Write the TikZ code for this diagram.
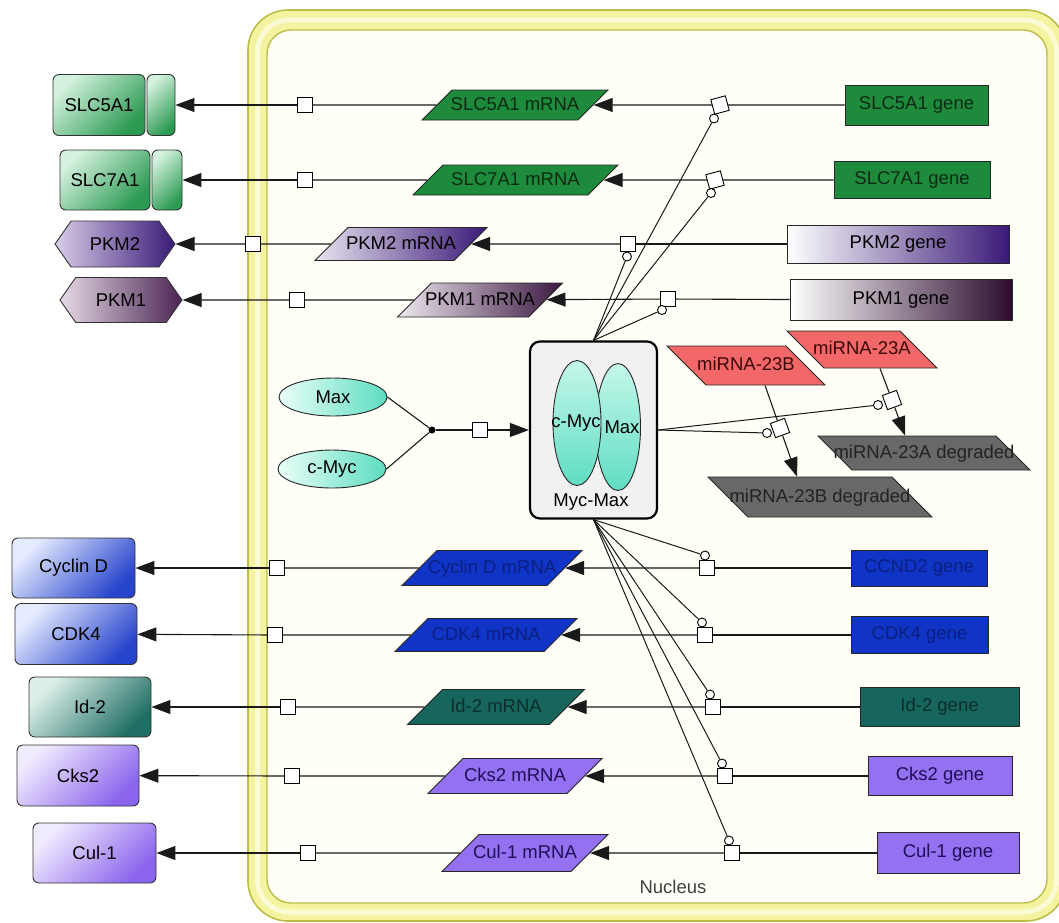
\documentclass[tikz,border=0pt]{standalone}
\usepackage{fontspec}
\setmainfont{Liberation Sans}
\usetikzlibrary{shapes.geometric,shapes.symbols,arrows.meta,calc}

% palette
\definecolor{geneGreen}{HTML}{1E8A3B}
\definecolor{txtGreen}{HTML}{0E2A14}
\definecolor{protGreenL}{HTML}{D3F1DD}
\definecolor{protGreenD}{HTML}{2B9A52}
\definecolor{pkmTwo}{HTML}{3A1A78}
\definecolor{pkmTwoL}{HTML}{D8CDE8}
\definecolor{pkmTwoM}{HTML}{E8E3F0}
\definecolor{pkmOne}{HTML}{2C0B2E}
\definecolor{pkmOneL}{HTML}{E6DAE6}
\definecolor{pkmOneM}{HTML}{EEE8EE}
\definecolor{pkmOneP}{HTML}{4A2452}
\definecolor{pkmOneR}{HTML}{3C1842}
\definecolor{cycBlue}{HTML}{1034C6}
\definecolor{txtBlue}{HTML}{0B1F80}
\definecolor{cycBlueL}{HTML}{E6ECFF}
\definecolor{cycBlueD}{HTML}{2744CC}
\definecolor{idTeal}{HTML}{17665D}
\definecolor{txtTeal}{HTML}{0A2E29}
\definecolor{idTealL}{HTML}{DCEFEA}
\definecolor{idTealD}{HTML}{1F6E63}
\definecolor{cksViolet}{HTML}{9371F0}
\definecolor{txtViolet}{HTML}{1E1058}
\definecolor{cksVioletL}{HTML}{F1EBFF}
\definecolor{cksVioletD}{HTML}{8A64EC}
\definecolor{mirRed}{HTML}{F26868}
\definecolor{txtRed}{HTML}{3A0808}
\definecolor{degGrey}{HTML}{686868}
\definecolor{txtGrey}{HTML}{222222}
\definecolor{aquaL}{HTML}{EAFFF8}
\definecolor{aquaD}{HTML}{5CDDC0}
\definecolor{aquaTop}{HTML}{C4F7EA}
\definecolor{aquaBot}{HTML}{5FDDC2}
\definecolor{nucBand}{HTML}{F3F3A0}
\definecolor{nucEdge}{HTML}{BDBD48}
\definecolor{nucStripe}{HTML}{FAFAD4}
\definecolor{nucInside}{HTML}{FFFFF8}
\definecolor{lineGrey}{HTML}{1A1A1A}
\definecolor{cplxFill}{HTML}{F1F1F1}

\begin{document}
\begin{tikzpicture}[x=1pt,y=-1pt,
  txt/.style={font=\fontsize{18.5pt}{21pt}\selectfont},
  gene/.style={txt, rectangle, draw=black!85, line width=0.9pt, inner sep=0pt},
  mrna/.style={txt, trapezium, trapezium left angle=45, trapezium right angle=135,
    trapezium stretches body, draw=black!85, line width=0.9pt, inner xsep=-10pt,
    text height=13.5pt, text depth=3.5pt},
  mirna/.style={mrna, trapezium left angle=135, trapezium right angle=45, inner xsep=-20pt},
  prot/.style={txt, rectangle, draw=black!80, line width=0.9pt, rounded corners=6pt, inner sep=0pt},
  protfill/.style 2 args={top color=#1, bottom color=#2, shading angle=45},
  hexa/.style={txt, signal, signal to=west and east, signal pointer angle=110,
    draw=black!80, line width=0.9pt, inner sep=0pt},
  proc/.style={rectangle, draw=black, fill=white, line width=0.9pt, minimum size=15pt, inner sep=0pt},
  modc/.style={circle, draw=black, fill=white, line width=0.9pt, minimum size=9pt, inner sep=0pt},
  ell/.style={txt, ellipse, draw=black!85, line width=0.9pt, left color=aquaL, right color=aquaD,
    minimum width=108pt, minimum height=38pt, inner sep=0pt},
  inell/.style={ellipse, draw=black!85, line width=0.9pt, top color=aquaTop, bottom color=aquaBot, inner sep=0pt},
  cplx/.style={rectangle, draw=black, line width=2.2pt, rounded corners=10pt, fill=cplxFill,
    minimum width=127pt, minimum height=177pt},
  conn/.style={draw=lineGrey, line width=1.1pt},
  prod/.style={conn, -{Triangle[length=19pt,width=14pt]}},
  mod/.style={draw=lineGrey, line width=1pt}
]
\useasboundingbox (0,0) rectangle (1059,922);
\fill[white] (0,0) rectangle (1059,922);

% nuclear envelope
\draw[nucEdge, line width=1.6pt, fill=nucBand, rounded corners=40pt] (248,10) rectangle (1066,921);
\draw[nucStripe, line width=5pt, rounded corners=32pt] (257.5,20) rectangle (1056.5,912);
\draw[nucEdge, line width=1.4pt, fill=nucInside, rounded corners=24pt] (267,30) rectangle (1047,903);
\node[txt, text=black!75] (nuclabel) at (673,887) {Nucleus};

% ---------- Myc-Max complex formation ----------
\node[ell] (eMax) at (333,397) {Max};
\node[ell] (eMyc) at (332,469) {c-Myc};
\node[circle, fill=black, inner sep=0pt, minimum size=7pt] (jn) at (432,430) {};
\node[proc] (sqMM) at (480,430) {};
\node[cplx] (cmx) at (593.5,430) {};
\node[inell, minimum width=45pt, minimum height=127pt] (inMax) at (618,427) {};
\node[inell, minimum width=48pt, minimum height=125pt] (inMyc) at (577,423) {};
\node[txt] (tMyc) at (576,423) {c-Myc};
\node[txt] (tMax) at (622,427) {Max};
\node[txt] (tCmx) at (591,502) {Myc-Max};

\draw[conn] (eMax.east) -- (jn);
\draw[conn] (eMyc.east) -- (jn);
\draw[conn] (jn) -- (sqMM);
\draw[prod] (sqMM) -- (cmx);

% ---------- SLC5A1 ----------
\node[gene, fill=geneGreen, text=txtGreen, minimum width=143pt, minimum height=40pt] (gSLC5A1) at (916.5,105) {SLC5A1 gene};
\node[proc, rotate=15] (tSLC5A1) at (720,105) {};
\node[modc] (oSLC5A1) at (714,118.5) {};
\node[mrna, fill=geneGreen, text=txtGreen, minimum width=186pt, inner ysep=6.5pt] (mSLC5A1) at (515,105) {SLC5A1 mRNA};
\node[proc] (lSLC5A1) at (305,105) {};
\node[prot, protfill={protGreenL}{protGreenD}, minimum width=92pt, minimum height=61pt] (pSLC5A1) at (99,105) {SLC5A1};
\node[prot, protfill={protGreenL}{protGreenD}, minimum width=28pt, minimum height=61pt] (pSLC5A1b) at (161,105) {};

% ---------- SLC7A1 ----------
\node[gene, fill=geneGreen, text=txtGreen, minimum width=156pt, minimum height=37pt] (gSLC7A1) at (912,180) {SLC7A1 gene};
\node[proc, rotate=15] (tSLC7A1) at (715,180) {};
\node[modc] (oSLC7A1) at (711,193) {};
\node[mrna, fill=geneGreen, text=txtGreen, minimum width=205pt, inner ysep=6.5pt] (mSLC7A1) at (515.5,180) {SLC7A1 mRNA};
\node[proc] (lSLC7A1) at (305,180) {};
\node[prot, protfill={protGreenL}{protGreenD}, minimum width=90pt, minimum height=60pt] (pSLC7A1) at (105,180) {SLC7A1};
\node[prot, protfill={protGreenL}{protGreenD}, minimum width=30pt, minimum height=60pt] (pSLC7A1b) at (167,180) {};

% ---------- PKM2 ----------
\node[gene, left color=white, right color=pkmTwo, minimum width=222pt, minimum height=38pt] (gPKM2) at (898,244) {PKM2 gene};
\node[proc] (tPKM2) at (628,244) {};
\node[modc] (oPKM2) at (627,256.5) {};
\node[mrna, left color=pkmTwoM, right color=pkmTwo, minimum width=172pt, inner ysep=8pt] (mPKM2) at (401,244) {PKM2 mRNA};
\node[proc] (lPKM2) at (253,244) {};
\node[hexa, left color=pkmTwoL, right color=pkmTwo, minimum width=120pt, minimum height=46pt] (pPKM2) at (115,244) {PKM2};

% ---------- PKM1 ----------
\node[gene, left color=white, right color=pkmOne, minimum width=222pt, minimum height=41pt] (gPKM1) at (901,300) {PKM1 gene};
\node[proc] (tPKM1) at (668,299) {};
\node[modc] (oPKM1) at (662,310) {};
\node[mrna, left color=pkmOneM, right color=pkmOneR, minimum width=165pt, inner ysep=8.5pt] (mPKM1) at (480,300) {PKM1 mRNA};
\node[proc] (lPKM1) at (297,300) {};
\node[hexa, left color=pkmOneL, right color=pkmOneP, minimum width=122pt, minimum height=45pt] (pPKM1) at (121,300) {PKM1};

% ---------- Cyclin D ----------
\node[gene, fill=cycBlue, text=txtBlue, minimum width=136pt, minimum height=36pt] (gCCND2) at (919,568) {CCND2 gene};
\node[proc] (tCCND2) at (707,568) {};
\node[modc] (oCCND2) at (705,555.5) {};
\node[mrna, fill=cycBlue, text=txtBlue, minimum width=180pt, inner ysep=9pt] (mCCND2) at (492,568) {Cyclin D mRNA};
\node[proc] (lCCND2) at (277,568) {};
\node[prot, protfill={cycBlueL}{cycBlueD}, minimum width=123pt, minimum height=60pt] (pCCND2) at (73.5,568) {Cyclin D};

% ---------- CDK4 ----------
\node[gene, fill=cycBlue, text=txtBlue, minimum width=137pt, minimum height=37pt] (gCDK4) at (919.5,635) {CDK4 gene};
\node[proc] (tCDK4) at (705,635) {};
\node[modc] (oCDK4) at (702,622.5) {};
\node[mrna, fill=cycBlue, text=txtBlue, minimum width=182pt, inner ysep=8pt] (mCDK4) at (486,635) {CDK4 mRNA};
\node[proc] (lCDK4) at (275,635) {};
\node[prot, protfill={cycBlueL}{cycBlueD}, minimum width=122pt, minimum height=61pt] (pCDK4) at (76,634) {CDK4};

% ---------- Id-2 ----------
\node[gene, fill=idTeal, text=txtTeal, minimum width=159pt, minimum height=39pt] (gID2) at (939.5,707) {Id-2 gene};
\node[proc] (tID2) at (713,707) {};
\node[modc] (oID2) at (710,694.5) {};
\node[mrna, fill=idTeal, text=txtTeal, minimum width=177pt, inner ysep=9pt] (mID2) at (496,707) {Id-2 mRNA};
\node[proc] (lID2) at (288,707) {};
\node[prot, protfill={idTealL}{idTealD}, minimum width=122pt, minimum height=60pt] (pID2) at (90,707) {Id-2};

% ---------- Cks2 ----------
\node[gene, fill=cksViolet, text=txtViolet, minimum width=144pt, minimum height=39pt] (gCKS2) at (940,776) {Cks2 gene};
\node[proc] (tCKS2) at (725,776) {};
\node[modc] (oCKS2) at (722,763.5) {};
\node[mrna, fill=cksViolet, text=txtViolet, minimum width=174pt, inner ysep=9pt] (mCKS2) at (515,776) {Cks2 mRNA};
\node[proc] (lCKS2) at (292,776) {};
\node[prot, protfill={cksVioletL}{cksVioletD}, minimum width=122pt, minimum height=61pt] (pCKS2) at (78,775.5) {Cks2};

% ---------- Cul-1 ----------
\node[gene, fill=cksViolet, text=txtViolet, minimum width=142pt, minimum height=41pt] (gCUL1) at (948,853) {Cul-1 gene};
\node[proc] (tCUL1) at (732,853) {};
\node[modc] (oCUL1) at (729,840.5) {};
\node[mrna, fill=cksViolet, text=txtViolet, minimum width=166pt, inner ysep=10pt] (mCUL1) at (525,853) {Cul-1 mRNA};
\node[proc] (lCUL1) at (308,853) {};
\node[prot, protfill={cksVioletL}{cksVioletD}, minimum width=123pt, minimum height=60pt] (pCUL1) at (94.5,853) {Cul-1};

% ---------- microRNAs ----------
\node[mirna, fill=mirRed, text=txtRed, minimum width=158pt, inner ysep=11pt] (m23B) at (746,365.5) {miRNA-23B};
\node[mirna, fill=mirRed, text=txtRed, minimum width=150pt, inner ysep=10pt] (m23A) at (862,349.5) {miRNA-23A};
\node[mirna, fill=degGrey, text=txtGrey, minimum width=212pt, inner ysep=8.5pt] (d23A) at (924,453) {miRNA-23A degraded};
\node[mirna, fill=degGrey, text=txtGrey, minimum width=224pt, inner ysep=11.5pt] (d23B) at (820,497) {miRNA-23B degraded};
\node[proc, rotate=20] (s23B) at (780,428) {};
\node[modc] (o23B) at (767,433) {};
\node[proc, rotate=20] (s23A) at (892,400) {};
\node[modc] (o23A) at (878,405) {};
\coordinate (m23Bout) at ($(m23B.south)+(19,0)$);
\coordinate (d23Bin) at ($(d23B.north)+(-23,0)$);
\coordinate (m23Aout) at ($(m23A.south)+(18,0)$);
\coordinate (d23Ain) at ($(d23A.north)+(-19,0)$);

% ---------- transcription and translation ----------
\foreach \g in {SLC5A1,SLC7A1,PKM2,PKM1,CCND2,CDK4,ID2,CKS2,CUL1}{
  \draw[conn] (g\g) -- (t\g);
  \draw[prod] (t\g) -- (m\g);
  \draw[conn] (m\g) -- (l\g);
}
\draw[prod] (lSLC5A1) -- (pSLC5A1b);
\draw[prod] (lSLC7A1) -- (pSLC7A1b);
\foreach \g in {PKM2,PKM1,CCND2,CDK4,ID2,CKS2,CUL1}{
  \draw[prod] (l\g) -- (p\g);
}

% ---------- regulation by Myc-Max ----------
\foreach \g in {SLC5A1,SLC7A1,PKM2,PKM1}{
  \draw[mod] (cmx.north) -- (o\g);
}
\foreach \g in {CCND2,CDK4,ID2,CKS2,CUL1}{
  \draw[mod] (cmx.south) -- (o\g);
}
\draw[mod] (cmx.east) -- (o23B);
\draw[mod] (cmx.east) -- (o23A);

% ---------- microRNA degradation ----------
\draw[conn] (m23Bout) -- (s23B);
\draw[prod] (s23B) -- (d23Bin);
\draw[conn] (m23Aout) -- (s23A);
\draw[prod] (s23A) -- (d23Ain);
\end{tikzpicture}
\end{document}
